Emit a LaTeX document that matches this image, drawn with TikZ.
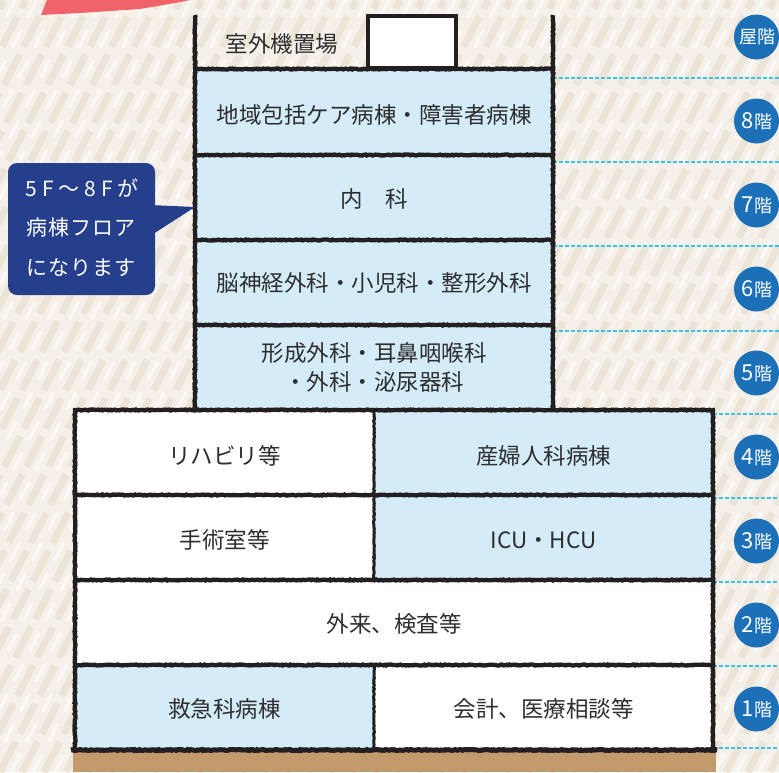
\documentclass[tikz,border=0pt]{standalone}
\usepackage{fontspec}
\setmainfont{Noto Sans CJK JP}
\newfontfamily\callfont[LetterSpace=5]{Noto Sans CJK JP}
\usetikzlibrary{decorations.pathmorphing}
\definecolor{bgbase}{HTML}{F5F1EA}
\definecolor{bgstripe}{HTML}{ECE4D7}
\definecolor{lightblue}{HTML}{D4EBF8}
\definecolor{ink}{HTML}{231F20}
\definecolor{txt}{HTML}{2E2E2E}
\definecolor{navy}{HTML}{263F8C}
\definecolor{badge}{HTML}{1B70B7}
\definecolor{ground}{HTML}{C39A6B}
\definecolor{cyanline}{HTML}{3FC0E8}
\definecolor{brush}{HTML}{F0636A}
\tikzset{
  stripe/.style={bgstripe, line width=7pt, dash pattern=on 34pt off 9pt},
  wall/.style={ink, line width=4.3pt, decorate, decoration={random steps, segment length=1.5pt, amplitude=0.5pt}},
  thinwall/.style={ink, line width=3pt, decorate, decoration={random steps, segment length=1.5pt, amplitude=0.4pt}},
  cell/.style={inner sep=0pt, font=\fontsize{22.5}{29}\selectfont, text=txt, align=center},
  floorline/.style={cyanline, line width=1.1pt, dash pattern=on 3.5pt off 2.5pt},
  badgec/.style={circle, fill=badge, minimum size=45pt, inner sep=0pt},
  badget/.style={text=white, inner sep=0pt},
  calltext/.style={text=white, font=\callfont\fontsize{21}{21}\selectfont, inner sep=0pt},
}
\newcommand{\flr}[1]{{\fontsize{22}{22}\selectfont #1}{\fontsize{18}{18}\selectfont 階}}
\begin{document}
\begin{tikzpicture}[x=1pt,y=-1pt]
\useasboundingbox (0,0) rectangle (779,772);
\fill[bgbase] (0,0) rectangle (779,772);
\begin{scope}
\clip (0,0) rectangle (779,772);
\foreach \i in {-22,...,36} { \draw[stripe] (\i*22,772) -- ++(400,-772); }
\foreach \i in {-22,...,36} { \draw[white, opacity=0.6, line width=3pt, dash pattern=on 20pt off 14pt] (\i*22+11,772) -- ++(400,-772); }
% red brush stroke
\fill[brush] (47,0) -- (41,15) -- (80,13) -- (140,9) -- (175,3) -- (190,0) -- cycle;
\end{scope}

% dashed floor lines
\foreach \yy in {78,162,246,331} { \draw[floorline] (553,\yy) -- (779,\yy); }
\foreach \yy in {414,498,582,666,748} { \draw[floorline] (713,\yy) -- (779,\yy); }

% ground
\fill[ground] (73,752) rectangle (716,772);

% upper tower cells
\node[cell, fill=lightblue, minimum width=358pt, minimum height=86pt] (f8) at (374,112) {};
\node[cell, fill=lightblue, minimum width=358pt, minimum height=85pt] (f7) at (374,197.5) {};
\node[cell, fill=lightblue, minimum width=358pt, minimum height=85pt] (f6) at (374,282.5) {};
\node[cell, fill=lightblue, minimum width=358pt, minimum height=85pt] (f5) at (374,367.5) {};
% lower block cells
\node[cell, fill=white, minimum width=299pt, minimum height=85pt] (f4l) at (224.5,452.5) {};
\node[cell, fill=lightblue, minimum width=339pt, minimum height=85pt] (f4r) at (543.5,452.5) {};
\node[cell, fill=white, minimum width=299pt, minimum height=85pt] (f3l) at (224.5,537.5) {};
\node[cell, fill=lightblue, minimum width=339pt, minimum height=85pt] (f3r) at (543.5,537.5) {};
\node[cell, fill=white, minimum width=638pt, minimum height=85pt] (f2) at (394,622.5) {};
\node[cell, fill=lightblue, minimum width=299pt, minimum height=85pt] (f1l) at (224.5,707.5) {};
\node[cell, fill=white, minimum width=339pt, minimum height=85pt] (f1r) at (543.5,707.5) {};

% rooftop unit
\node[draw=ink, line width=3.8pt, fill=white, minimum width=88pt, minimum height=52pt, inner sep=0pt] (ac) at (412,42) {};

% walls and slabs
\draw[wall] (195,15) -- (195,410);
\draw[wall] (553,15) -- (553,410);
\foreach \yy in {69,155,240,325} { \draw[wall] (193,\yy) -- (555,\yy); }
\draw[wall] (73,410) -- (715,410);
\foreach \yy in {495,580,665} { \draw[wall] (73,\yy) -- (715,\yy); }
\draw[wall, line width=5pt] (71,750) -- (717,750);
\draw[wall] (75,410) -- (75,750);
\draw[wall] (713,410) -- (713,750);
\draw[thinwall] (374,410) -- (374,580);
\draw[thinwall] (374,665) -- (374,750);

% labels
\node[cell] (roof) at (282,44) {室外機置場};
\node[cell] (t8) at (374,115) {地域包括ケア病棟・障害者病棟};
\node[cell] (t7) at (374,199) {内\hspace{1em}科};
\node[cell] (t6) at (374,283) {脳神経外科・小児科・整形外科};
\node[cell] (t5) at (374,367.5) {形成外科・耳鼻咽喉科\\・外科・泌尿器科};
\node[cell] (t4l) at (224.5,456) {リハビリ等};
\node[cell] (t4r) at (543.5,456) {産婦人科病棟};
\node[cell] (t3l) at (224.5,540) {手術室等};
\node[cell] (t3r) at (543.5,540) {ICU・HCU};
\node[cell] (t2) at (394,624) {外来、検査等};
\node[cell] (t1l) at (224.5,709) {救急科病棟};
\node[cell] (t1r) at (543.5,709) {会計、医療相談等};

% callout
\fill[navy, rounded corners=9pt] (8,163) rectangle (155,295);
\fill[navy] (150,205) -- (195,207) -- (150,236) -- cycle;
\node[calltext] (c1) at (82,188) {5\hspace{5pt}F\hspace{5pt}～\hspace{5pt}8\hspace{5pt}F\hspace{4pt}が};
\node[calltext] (c2) at (81,228) {病棟フロア};
\node[calltext] (c3) at (81,268) {になります};

% floor badges
\foreach \yy/\lab/\nm in {37/{\fontsize{18}{18}\selectfont 屋階}/br, 121/\flr{8}/b8, 205/\flr{7}/b7, 289/\flr{6}/b6, 373/\flr{5}/b5, 457/\flr{4}/b4, 541/\flr{3}/b3, 625/\flr{2}/b2, 709/\flr{1}/b1} {
  \node[badgec] (\nm) at (756.5,\yy) {};
  \node[badget] (\nm t) at (757,\yy) {\lab};
}
\end{tikzpicture}
\end{document}
